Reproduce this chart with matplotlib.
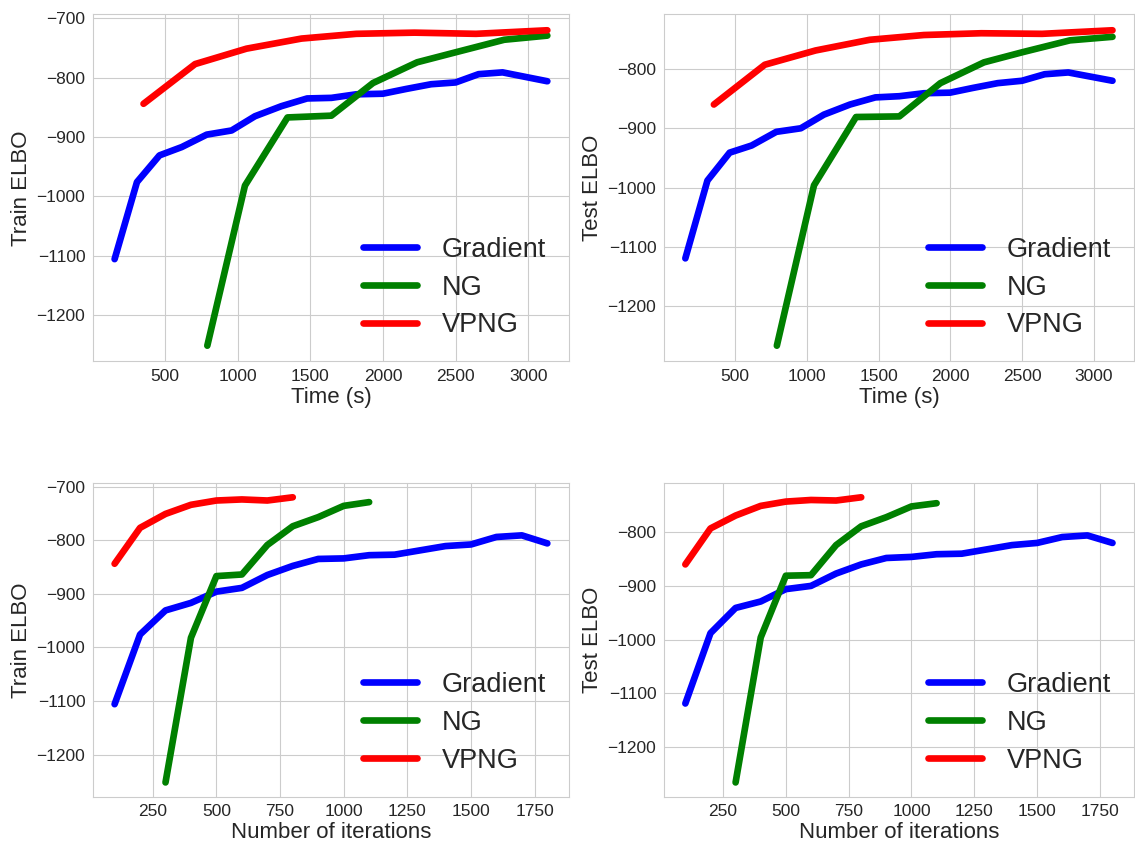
import matplotlib
matplotlib.use("Agg")
import matplotlib.pyplot as plt
import seaborn as sns

sns.set_style("whitegrid")
plt.rcParams['font.family'] = ['Liberation Sans', 'DejaVu Sans']

# ---------------- data ----------------
grad_iter = [100, 200, 300, 400, 500, 600, 700, 800, 900, 1000, 1100, 1200,
             1300, 1400, 1500, 1600, 1700, 1800]
grad_time = [152, 306, 461, 614, 786, 957, 1118, 1300, 1477, 1644, 1815, 1998,
             2158, 2330, 2499, 2657, 2822, 3130]
grad_train = [-1106, -976, -931, -917, -896, -889, -865, -848, -835, -834, -828,
              -827, -819, -811, -808, -794, -791, -806]
grad_test = [-1119, -988, -941, -929, -906, -900, -877, -860, -848, -846, -841,
             -840, -832, -824, -820, -809, -806, -820]

ng_iter = [300, 400, 500, 600, 700, 800, 900, 1000, 1100]
ng_time = [790, 1049, 1342, 1644, 1930, 2234, 2501, 2833, 3130]
ng_train = [-1252, -982, -867, -864, -809, -774, -757, -736, -729]
ng_test = [-1266, -996, -881, -880, -824, -789, -772, -752, -746]

vpng_iter = [100, 200, 300, 400, 500, 600, 700, 800]
vpng_time = [351, 706, 1060, 1438, 1815, 2215, 2639, 3130]
vpng_train = [-844, -777, -751, -734, -726, -724, -726, -720]
vpng_test = [-860, -793, -769, -751, -743, -740, -741, -735]

methods = ["Gradient", "NG", "VPNG"]
colors = ["blue", "green", "red"]

# ---------------- figure ----------------
fig = plt.figure(figsize=(11.35, 8.43), dpi=100)
positions = {
    (0, 0): [0.0819, 0.5712, 0.4194, 0.4116],
    (0, 1): [0.5850, 0.5712, 0.4140, 0.4116],
    (1, 0): [0.0819, 0.0549, 0.4194, 0.3721],
    (1, 1): [0.5850, 0.0549, 0.4140, 0.3721],
}

panels = [
    ((0, 0), [grad_time, ng_time, vpng_time], [grad_train, ng_train, vpng_train], "Time (s)", "Train ELBO"),
    ((0, 1), [grad_time, ng_time, vpng_time], [grad_test, ng_test, vpng_test], "Time (s)", "Test ELBO"),
    ((1, 0), [grad_iter, ng_iter, vpng_iter], [grad_train, ng_train, vpng_train], "Number of iterations", "Train ELBO"),
    ((1, 1), [grad_iter, ng_iter, vpng_iter], [grad_test, ng_test, vpng_test], "Number of iterations", "Test ELBO"),
]

for key, xs, ys, xl, yl in panels:
    ax = fig.add_axes(positions[key])
    for x, y, name, c in zip(xs, ys, methods, colors):
        ax.plot(x, y, color=c, lw=4.8, label=name, solid_capstyle='round')
    ax.set_xlabel(xl, fontsize=16, color='#262626', labelpad=2)
    ax.set_ylabel(yl, fontsize=16, color='#262626', labelpad=3)
    ax.tick_params(labelsize=12.5, colors='#262626', pad=2)
    leg = ax.legend(loc='lower right', fontsize=19.5, frameon=False,
                    borderaxespad=0.45, handletextpad=0.9, labelspacing=0.44)
    for s in ax.spines.values():
        s.set_color('#cccccc')

fig.savefig("out.png", dpi=100)
